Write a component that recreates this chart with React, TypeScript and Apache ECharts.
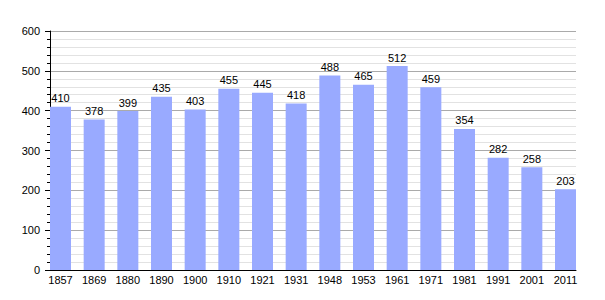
import React, { useEffect, useRef } from "react";
import * as echarts from "echarts";

const years = ["1857", "1869", "1880", "1890", "1900", "1910", "1921", "1931", "1948", "1953", "1961", "1971", "1981", "1991", "2001", "2011"];
const population = [410, 378, 399, 435, 403, 455, 445, 418, 488, 465, 512, 459, 354, 282, 258, 203];

const FONT = "Liberation Sans, Arial, sans-serif";

export default function App() {
  const ref = useRef<HTMLDivElement>(null);
  useEffect(() => {
    if (!ref.current) return;
    const chart = echarts.init(ref.current, undefined, { renderer: "svg" });
    chart.setOption({
      animation: false,
      backgroundColor: "#ffffff",
      textStyle: { fontFamily: FONT },
      grid: [
        { left: 50, top: 31, width: 526, height: 239 },
        { left: 43.67, top: 31, width: 538.67, height: 239 },
      ],
      xAxis: [
        {
          gridIndex: 0,
          type: "value",
          min: 0,
          max: 1,
          axisLine: { show: true, lineStyle: { color: "#000", width: 1 } },
          axisTick: { show: false },
          axisLabel: { show: false },
          splitLine: { show: false },
        },
        {
          gridIndex: 1,
          type: "category",
          data: years,
          axisLine: { show: false },
          axisTick: { show: false },
          axisLabel: { color: "#000", fontSize: 11, margin: 4, fontFamily: FONT },
          splitLine: { show: false },
        },
      ],
      yAxis: [
        {
          gridIndex: 0,
          type: "value",
          min: 0,
          max: 600,
          interval: 100,
          axisLine: { show: true, lineStyle: { color: "#000", width: 1 } },
          axisTick: { show: true, length: 5, lineStyle: { color: "#000" } },
          minorTick: { show: true, splitNumber: 5, length: 3, lineStyle: { color: "#000" } },
          axisLabel: { color: "#000", fontSize: 11, margin: 10, fontFamily: FONT },
          splitLine: { show: true, lineStyle: { color: "#aaaaaa", width: 1 } },
          minorSplitLine: { show: true, lineStyle: { color: "#e2e2e2", width: 1 } },
        },
        {
          gridIndex: 1,
          type: "value",
          min: 0,
          max: 600,
          show: false,
        },
      ],
      series: [
        {
          type: "bar",
          xAxisIndex: 1,
          yAxisIndex: 1,
          data: population,
          barWidth: 21,
          itemStyle: { color: "#99aaff" },
          label: {
            show: true,
            position: "top",
            distance: 3,
            color: "#000",
            fontSize: 11,
            fontFamily: FONT,
          },
        },
      ],
    });
    return () => chart.dispose();
  }, []);
  return (
    <div
      ref={ref}
      style={{ position: "absolute", left: 0, top: 0, width: 605, height: 300 }}
    />
  );
}
